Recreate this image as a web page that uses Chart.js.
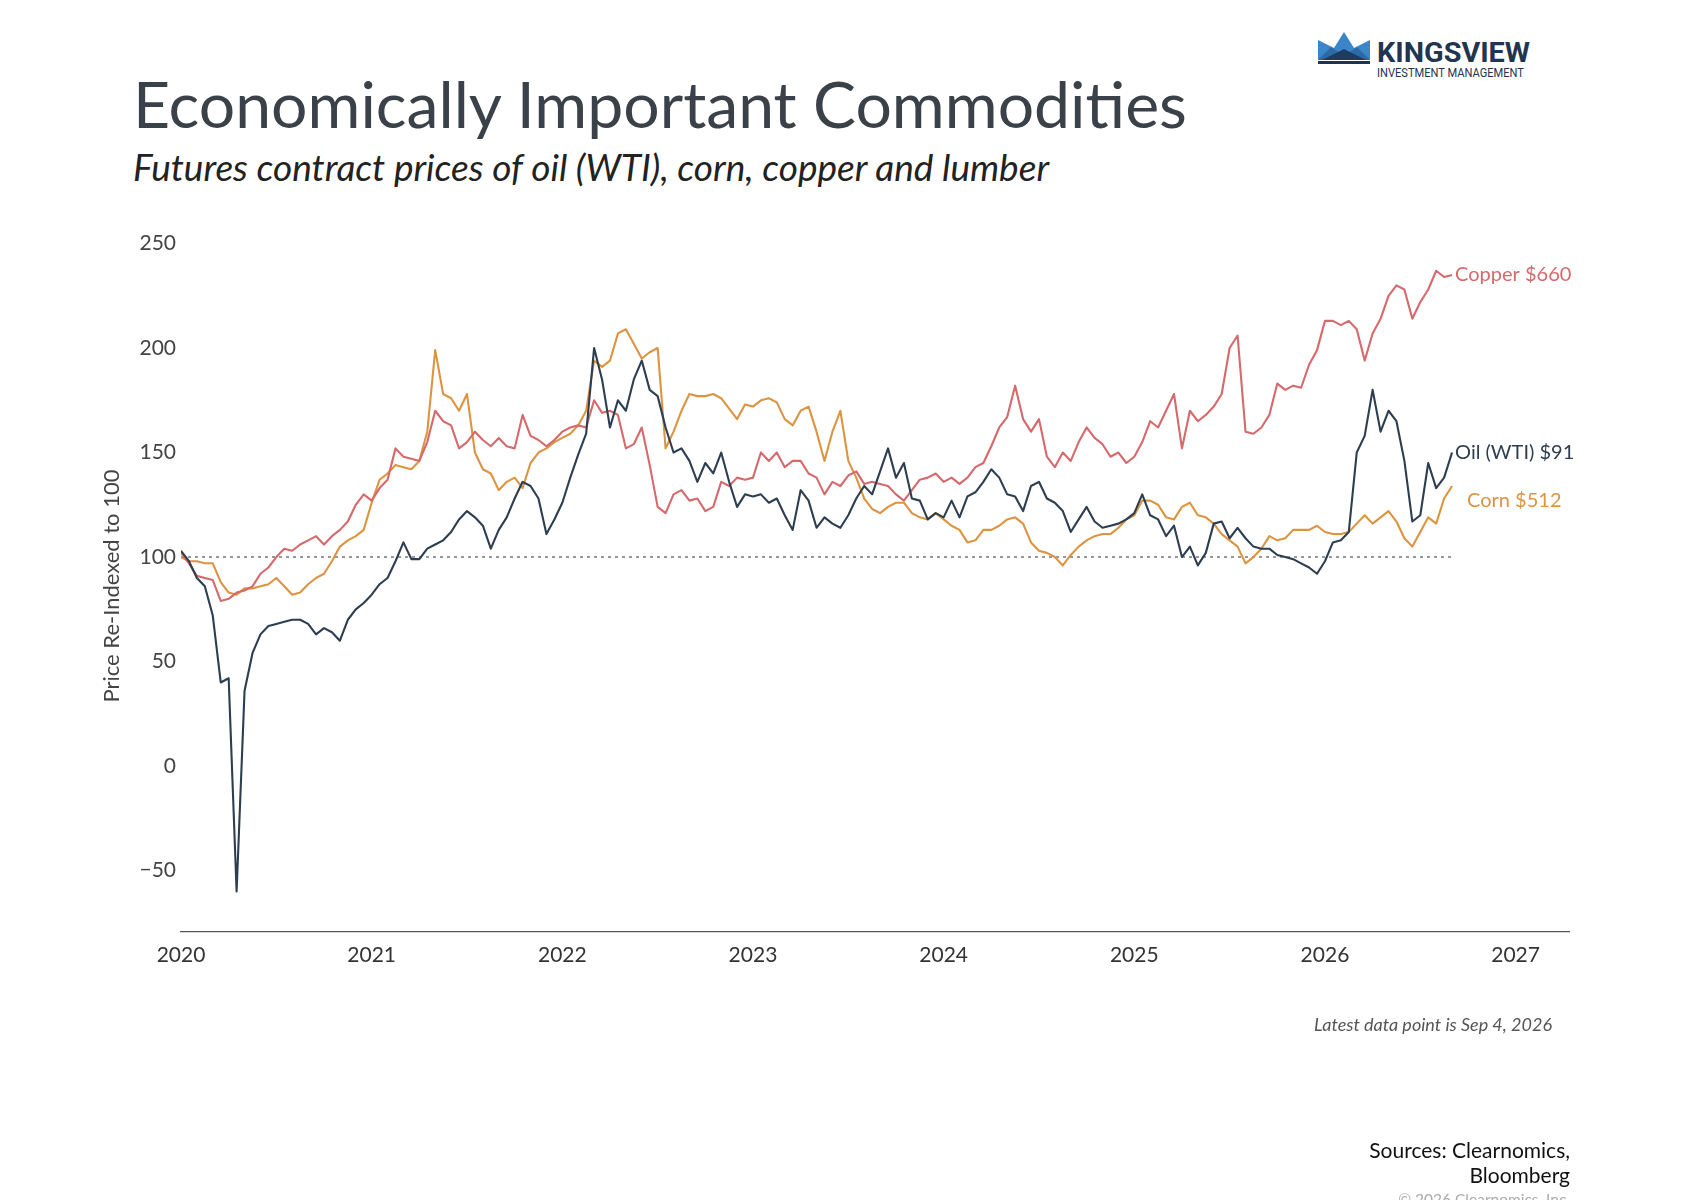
<!DOCTYPE html>
<html>
<head>
<meta charset="utf-8">
<script src="https://cdn.jsdelivr.net/npm/chart.js@4.4.1/dist/chart.umd.min.js"></script>
<style>
  html, body { margin: 0; padding: 0; background: #fff; }
  body { width: 1704px; height: 1200px; position: relative; overflow: hidden; font-family: Lato, "Open Sans", sans-serif; }
  #wrap { position: absolute; left: 0; top: 0; width: 1704px; height: 1200px; }
  .title { position: absolute; left: 133px; top: 65px; font-size: 64.3px; color: #3a4148; white-space: nowrap; }
  .subtitle { position: absolute; left: 133px; top: 144px; font-size: 37px; font-style: italic; color: #222; white-space: nowrap; }
  .latest { position: absolute; right: 152px; top: 1013px; font-size: 18px; font-style: italic; color: #555; }
  .sources { position: absolute; right: 134px; top: 1137px; font-size: 21px; color: #111; text-align: right; line-height: 25px; }
  .copy { position: absolute; right: 134px; top: 1190px; font-size: 15.5px; color: #aaa; }
  #logo { position: absolute; left: 1314px; top: 28px; }
</style>
</head>
<body>
<div class="title">Economically Important Commodities</div>
<div class="subtitle">Futures contract prices of oil (WTI), corn, copper and lumber</div>
<svg id="logo" width="230" height="56" viewBox="0 0 230 56">
  <polygon points="4,12 20,20 30,4 40,20 56,12 56,32 4,32" fill="#3b86c8"/>
  <polygon points="4,32 17,19 30,28 43,19 56,32" fill="#2b6aa6"/>
  <polygon points="8,32 30,21 52,32" fill="#1d3d60"/>
  <rect x="4" y="33" width="52" height="3" fill="#1d3550"/>
  <text x="63" y="34" font-family="Roboto, sans-serif" font-weight="bold" font-size="27" fill="#1f3550" textLength="153" lengthAdjust="spacingAndGlyphs">KINGSVIEW</text>
  <text x="63" y="49" font-family="Roboto, sans-serif" font-size="13" fill="#1f3550" textLength="147" lengthAdjust="spacingAndGlyphs">INVESTMENT MANAGEMENT</text>
</svg>
<div id="wrap"><canvas id="chart" width="1704" height="1200"></canvas></div>
<div class="latest">Latest data point is Sep 4, 2026</div>
<div class="sources">Sources: Clearnomics,<br>Bloomberg</div>
<div class="copy">© 2026 Clearnomics, Inc.</div>
<script>
// semi-monthly readings, index 0 = Jan 2020, last = early Sep 2026
var startYear = 2020
var stepYears = 1 / 24

var oil = [103,98,90,86,72,40,42,-60,36,54,63,67,68,69,70,70,68,63,66,64,60,70,75,78,82,87,90,98,107,99,99,104,106,108,112,118,122,119,115,104,113,119,
  128,136,134,128,111,118,126,138,149,159,200,185,162,175,170,185,194,180,177,162,150,152,146,136,145,140,150,136,124,130,129,130,126,128,120,113,132,127,114,119,116,114,
  120,128,134,130,141,152,138,145,128,127,118,121,119,127,119,129,131,136,142,138,130,129,122,134,136,128,126,122,112,118,124,117,114,115,116,118,121,130,120,118,110,
  115,100,105,96,102,116,117,109,114,109,105,104,104,101,100,99,97,95,92,98,107,108,112,150,158,180,160,170,165,146,117,120,145,133,138,150]

var copper = [102,97,91,90,89,79,80,83,84,86,92,95,100,104,103,106,108,110,106,110,113,117,125,130,127,133,137,152,148,147,146,155,170,165,163,152,155,160,156,153,157,153,
  152,168,158,156,153,156,160,162,163,162,175,169,170,168,152,154,162,144,124,121,130,132,127,128,122,124,136,134,138,137,138,150,146,150,143,146,146,140,138,130,136,134,
  139,141,135,136,135,134,130,127,132,137,138,140,136,138,135,138,143,145,153,162,167,182,166,160,166,148,143,150,146,155,162,157,154,148,150,145,148,155,165,162,170,
  178,152,170,165,168,172,178,200,206,160,159,162,168,183,180,182,181,192,199,213,213,211,213,209,194,207,214,225,230,228,214,222,228,237,234,235]

var corn = [100,98,98,97,97,88,83,82,85,85,86,87,90,86,82,83,87,90,92,98,105,108,110,113,126,137,140,144,143,142,146,160,199,178,176,170,178,150,142,140,132,136,
  138,133,145,150,152,155,157,159,163,170,194,191,194,207,209,202,195,198,200,152,160,170,178,177,177,178,176,171,166,173,172,175,176,174,166,163,170,172,160,146,160,170,
  146,138,128,123,121,124,126,126,121,119,118,121,118,115,113,107,108,113,113,115,118,119,116,107,103,102,100,96,101,105,108,110,111,111,114,118,120,127,127,125,119,
  118,124,126,120,119,116,111,108,105,97,100,104,110,108,109,113,113,113,115,112,111,111,112,116,120,116,119,122,117,109,105,112,119,116,128,134]

var endLabels = ['Oil (WTI) $91', 'Copper $660', 'Corn $512']
var yTicks = [-50, 0, 50, 100, 150, 200, 250]
var xTicks = [2020, 2021, 2022, 2023, 2024, 2025, 2026, 2027]
var baseline = 100

function toPoints(arr) {
  return arr.map(function(v, i) { return { x: startYear + i * stepYears, y: v } })
}

var lastX = startYear + (oil.length - 1) * stepYears

var endLabelPlugin = {
  id: 'endLabels',
  afterDatasetsDraw: function(chart) {
    var ctx = chart.ctx
    ctx.save()
    ctx.font = '20px Lato, "Open Sans", sans-serif'
    ctx.textBaseline = 'middle'
    ctx.textAlign = 'left'
    var offsets = [[3, 0], [3, 0], [15, 15]]
    for (var d = 0; d < 3; d++) {
      var meta = chart.getDatasetMeta(d)
      var pt = meta.data[meta.data.length - 1]
      ctx.fillStyle = chart.data.datasets[d].borderColor
      ctx.fillText(endLabels[d], pt.x + offsets[d][0], pt.y + offsets[d][1])
    }
    ctx.restore()
  }
}

var ctx = document.getElementById('chart').getContext('2d')
var myChart = new Chart(ctx, {
  type: 'line',
  data: {
    datasets: [{
      label: 'Oil (WTI)',
      data: toPoints(oil),
      borderColor: '#2d3e50',
      borderWidth: 2.1
    }, {
      label: 'Copper',
      data: toPoints(copper),
      borderColor: '#d6696b',
      borderWidth: 2.1
    }, {
      label: 'Corn',
      data: toPoints(corn),
      borderColor: '#dc9441',
      borderWidth: 2.1
    }, {
      label: 'Base',
      data: [{ x: startYear, y: baseline }, { x: lastX, y: baseline }],
      borderColor: '#777',
      borderWidth: 1.5,
      borderDash: [3, 4]
    }]
  },
  options: {
    responsive: false,
    animation: false,
    elements: {
      point: { radius: 0 },
      line: { tension: 0, borderCapStyle: 'butt', borderJoinStyle: 'round' }
    },
    layout: {
      padding: { left: 95, top: 240, right: 135, bottom: 228 }
    },
    plugins: {
      legend: { display: false },
      tooltip: { enabled: false }
    },
    scales: {
      x: {
        type: 'linear',
        min: 2020,
        max: 2027.28,
        afterBuildTicks: function(scale) {
          scale.ticks = xTicks.map(function(v) { return { value: v } })
        },
        afterFit: function(scale) { scale.height = 40 },
        grid: { display: false, drawTicks: false },
        border: { display: true, color: '#555', width: 1.2 },
        ticks: {
          padding: 11,
          color: '#333',
          font: { family: 'Lato, "Open Sans", sans-serif', size: 21 },
          callback: function(v) { return String(v) }
        }
      },
      y: {
        min: -79.4,
        max: 251.7,
        afterBuildTicks: function(scale) {
          scale.ticks = yTicks.map(function(v) { return { value: v } })
        },
        afterFit: function(scale) { scale.width = 86 },
        grid: { display: false, drawTicks: false },
        border: { display: false },
        ticks: {
          padding: 5,
          color: '#444',
          font: { family: 'Lato, "Open Sans", sans-serif', size: 21 },
          callback: function(v) { return v < 0 ? '\u2212' + Math.abs(v) : String(v) }
        },
        title: {
          display: true,
          text: 'Price Re-Indexed to 100',
          color: '#444',
          padding: { top: 4, bottom: 0 },
          font: { family: 'Lato, "Open Sans", sans-serif', size: 22 }
        }
      }
    }
  },
  plugins: [endLabelPlugin]
})
</script>
</body>
</html>
